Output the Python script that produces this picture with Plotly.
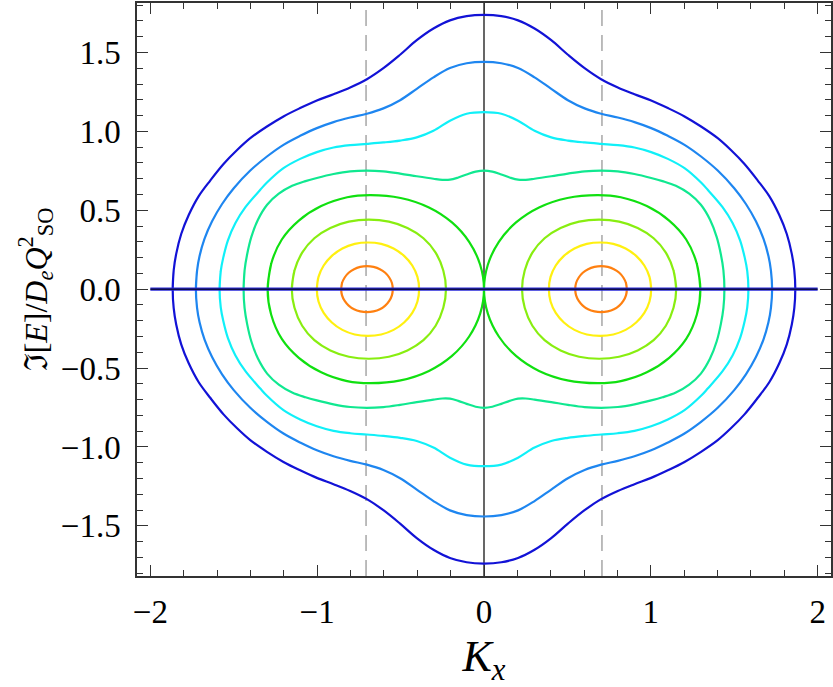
import plotly.graph_objects as go

FONT = "Liberation Serif"
FRAME = "#333333"

# ── Data: upper-left quarter of each outer (symmetric) curve ──────────────────
blue_x = [-1.866, -1.860, -1.845, -1.815, -1.770, -1.710, -1.640, -1.560, -1.480,
          -1.401, -1.301, -1.202, -1.102, -1.002, -0.902, -0.802, -0.702,
          -0.603, -0.503, -0.403, -0.303, -0.204, -0.104, 0.0]
blue_y = [0.0, 0.120, 0.224, 0.350, 0.470, 0.590, 0.690, 0.795, 0.882,
          0.957, 1.031, 1.095, 1.148, 1.196, 1.236, 1.279, 1.331,
          1.401, 1.486, 1.578, 1.652, 1.704, 1.731, 1.739]

azure_x = [-1.727, -1.720, -1.705, -1.675, -1.630, -1.570, -1.500,
           -1.401, -1.301, -1.202, -1.102, -1.002, -0.902, -0.802, -0.702,
           -0.603, -0.503, -0.403, -0.303, -0.204, -0.104, 0.0]
azure_y = [0.0, 0.118, 0.210, 0.320, 0.430, 0.540, 0.640,
           0.752, 0.841, 0.915, 0.972, 1.021, 1.059, 1.088, 1.112,
           1.146, 1.198, 1.270, 1.343, 1.402, 1.432, 1.441]

cyan_x = [-1.585, -1.578, -1.563, -1.535, -1.490, -1.430, -1.341, -1.301,
          -1.202, -1.102, -1.002, -0.902, -0.802, -0.702,
          -0.603, -0.503, -0.403, -0.303, -0.204, -0.104, 0.0]
cyan_y = [0.0, 0.115, 0.200, 0.310, 0.420, 0.520, 0.630, 0.676,
          0.767, 0.826, 0.869, 0.898, 0.913, 0.921,
          0.930, 0.942, 0.962, 1.004, 1.068, 1.112, 1.122]

spring_x = [-1.441, -1.435, -1.420, -1.395, -1.355, -1.300, -1.230, -1.150, -1.070,
            -1.002, -0.902, -0.802, -0.702, -0.603, -0.503, -0.403, -0.303,
            -0.250, -0.204, -0.154, -0.104, -0.050, 0.0]
spring_y = [0.0, 0.120, 0.220, 0.330, 0.440, 0.535, 0.605, 0.655, 0.685,
            0.705, 0.730, 0.747, 0.752, 0.747, 0.733, 0.716, 0.700,
            0.693, 0.694, 0.708, 0.727, 0.745, 0.752]

# ── Data: upper half of each left loop (mirrored to the right one) ────────────
green_x = [-1.297, -1.276, -1.212, -1.110, -0.976, -0.820, -0.680,
           -0.500, -0.330, -0.192, -0.089, -0.023, 0.0]
green_y = [0.0, 0.160, 0.315, 0.435, 0.527, 0.583, 0.596,
           0.578, 0.518, 0.423, 0.300, 0.155, 0.0]

chart_x = [-1.152, -1.136, -1.090, -1.017, -0.921, -0.810, -0.690,
           -0.570, -0.459, -0.363, -0.290, -0.244, -0.228]
chart_y = [0.0, 0.118, 0.232, 0.323, 0.388, 0.428, 0.441,
           0.428, 0.388, 0.323, 0.232, 0.118, 0.0]

yellow_x = [-1.002, -0.992, -0.961, -0.912, -0.849, -0.775, -0.696,
            -0.616, -0.542, -0.479, -0.430, -0.399, -0.389]
yellow_y = [0.0, 0.078, 0.150, 0.211, 0.258, 0.287, 0.296,
            0.287, 0.258, 0.211, 0.150, 0.078, 0.0]

orange_x = [-0.856, -0.851, -0.835, -0.811, -0.779, -0.742, -0.702,
            -0.662, -0.624, -0.592, -0.568, -0.552, -0.547]
orange_y = [0.0, 0.039, 0.074, 0.104, 0.127, 0.141, 0.146,
            0.141, 0.127, 0.104, 0.074, 0.039, 0.0]

real_x = [-2.0, 2.0]
real_y = [0.0, 0.0]
dashed_x = [-0.7071, 0.7071]

x_ticks = [-2, -1, 0, 1, 2]
y_ticks = [-1.5, -1.0, -0.5, 0.0, 0.5, 1.0, 1.5]


def closed_quarter(qx, qy):
    # quarter (x<=0, y>=0) -> full closed curve, symmetric in x and y
    ux = qx + [-v for v in qx[-2::-1]]
    uy = qy + qy[-2::-1]
    lx = ux[-2:0:-1]
    ly = [-v for v in uy[-2:0:-1]]
    xs = ux + lx + ux[:2]
    ys = uy + ly + uy[:2]
    return xs, ys


def closed_half(hx, hy, flip=False):
    xs = hx + hx[-2:0:-1] + hx[:2]
    ys = hy + [-v for v in hy[-2:0:-1]] + hy[:2]
    if flip:
        xs = [-v for v in xs]
    return xs, ys


fig = go.Figure()

# reference lines
for xd in dashed_x:
    fig.add_shape(type="line", x0=xd, x1=xd, y0=0, y1=1, xref="x", yref="paper",
                  line=dict(color="#999999", width=1.3, dash="16px,9px"), layer="below")
fig.add_shape(type="line", x0=0, x1=0, y0=0, y1=1, xref="x", yref="paper",
              line=dict(color="black", width=1.2), layer="below")

outer = [
    (blue_x, blue_y, "#1212D6"),
    (azure_x, azure_y, "#1E86F0"),
    (cyan_x, cyan_y, "#10F0F8"),
    (spring_x, spring_y, "#10E890"),
]
for qx, qy, col in outer:
    xs, ys = closed_quarter(qx, qy)
    fig.add_trace(go.Scatter(x=xs, y=ys, mode="lines",
                             line=dict(color=col, width=2.2, shape="spline", smoothing=1)))

loops = [
    (green_x, green_y, "#10E010"),
    (chart_x, chart_y, "#88EE10"),
    (yellow_x, yellow_y, "#FFF010"),
    (orange_x, orange_y, "#FF8010"),
]
for hx, hy, col in loops:
    for flip in (False, True):
        xs, ys = closed_half(hx, hy, flip)
        fig.add_trace(go.Scatter(x=xs, y=ys, mode="lines",
                                 line=dict(color=col, width=2.2, shape="spline", smoothing=1)))

fig.add_trace(go.Scatter(x=real_x, y=real_y, mode="lines",
                         line=dict(color="#2A2AD8", width=3.2)))
fig.add_trace(go.Scatter(x=real_x, y=real_y, mode="lines",
                         line=dict(color="black", width=1.0)))

axis_common = dict(
    showgrid=False, zeroline=False, showline=True, linecolor=FRAME, linewidth=1.5,
    mirror="allticks", ticks="inside", ticklen=11, tickwidth=1.2, tickcolor=FRAME,
    tickfont=dict(family=FONT, size=33, color="black"), automargin=False,
)

fig.update_xaxes(
    range=[-2.08, 2.08], tickvals=x_ticks, ticklabelstandoff=6,
    minor=dict(ticks="inside", dtick=0.2, ticklen=6, tickwidth=1, tickcolor=FRAME, showgrid=False),
    title=dict(text="<i>K</i><sub><i>x</i></sub>",
               font=dict(family=FONT, size=44, color="black"), standoff=36),
    **axis_common,
)
fig.update_yaxes(
    range=[-1.818, 1.814], tickvals=y_ticks, tickformat=".1f", ticklabelstandoff=8,
    minor=dict(ticks="inside", dtick=0.1, ticklen=6, tickwidth=1, tickcolor=FRAME, showgrid=False),
    title=dict(text="ℑ[<i>E</i>]/<i>D</i><sub><i>e</i></sub><i>Q</i><sup>2</sup><sub>SO</sub>",
               font=dict(family=FONT, size=32, color="black"), standoff=4),
    **axis_common,
)

fig.update_layout(
    width=833, height=687,
    margin=dict(l=137, r=2, t=3, b=111),
    paper_bgcolor="white", plot_bgcolor="white",
    showlegend=False,
)

# page body has a default 8px margin; drop it so the figure sits at the corner
fig.write_html("out.html", config={"displayModeBar": False},
               post_script="document.body.style.margin='0';")
